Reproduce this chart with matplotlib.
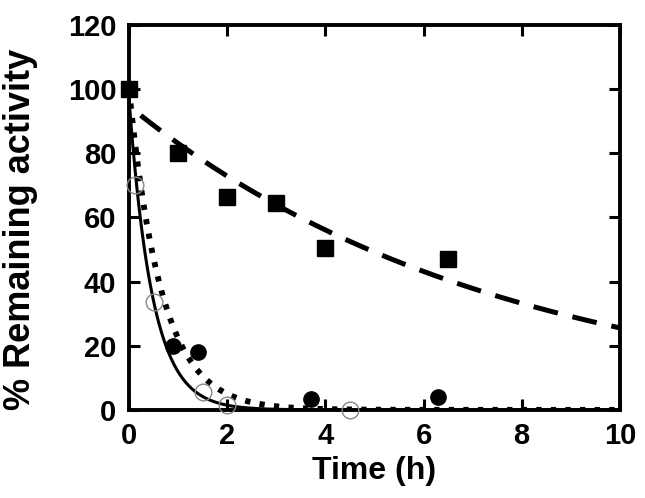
import numpy as np
import matplotlib
matplotlib.use('Agg')
from matplotlib import pyplot as plt

plt.rcParams['font.family'] = ['Liberation Sans', 'DejaVu Sans']
plt.rcParams['font.weight'] = 'bold'

# measured points
sq_t = [0, 1, 2, 3, 4, 6.5]
sq_y = [100, 80, 66.5, 64.5, 50.5, 47]

fc_t = [0.9, 1.4, 3.7, 6.3]
fc_y = [20, 18, 3.5, 4]

oc_t = [0.12, 0.5, 1.5, 2.0, 4.5]
oc_y = [70, 33.5, 5.5, 1.5, 0]

# fitted decay curves (amplitude, rate)
dash_fit = (94.7, 0.131)
dot_fit = (100, 1.5)
solid_fit = (97, 2.1)

t = np.linspace(0, 10, 500)

fig = plt.figure(figsize=(6.45, 4.98), dpi=100)
ax = fig.add_axes([0.2, 0.177, 0.761, 0.773])

ax.plot(t, dash_fit[0] * np.exp(-dash_fit[1] * t), color='black', lw=3.6,
        linestyle=(5, (5, 3)))
ax.plot(t, dot_fit[0] * np.exp(-dot_fit[1] * t), color='black', lw=4.2,
        linestyle=(0, (0.9, 1.6)))
ax.plot(t, solid_fit[0] * np.exp(-solid_fit[1] * t), color='black', lw=2.2)

ax.plot(sq_t, sq_y, 's', color='black', ms=11.5, clip_on=False, zorder=5)
ax.plot(fc_t, fc_y, 'o', color='black', ms=11, clip_on=False, zorder=5)
ax.plot(oc_t, oc_y, 'o', mfc='none', mec='#888888', mew=1, ms=12,
        clip_on=False, zorder=5)

ax.set_xlim(0, 10)
ax.set_ylim(0, 120)
ax.set_xticks([0, 2, 4, 6, 8, 10])
ax.set_yticks([0, 20, 40, 60, 80, 100, 120])
ax.tick_params(direction='in', length=8, width=2.2, top=True, right=True,
               labelsize=21, pad=9)
for s in ax.spines.values():
    s.set_linewidth(2.8)

ax.set_xlabel('Time (h)', fontsize=23, fontweight='bold', labelpad=4)
ax.set_ylabel('% Remaining activity', fontsize=26, fontweight='bold')
ax.yaxis.set_label_coords(-0.185, 0.47)

fig.savefig('out.png', dpi=100)
